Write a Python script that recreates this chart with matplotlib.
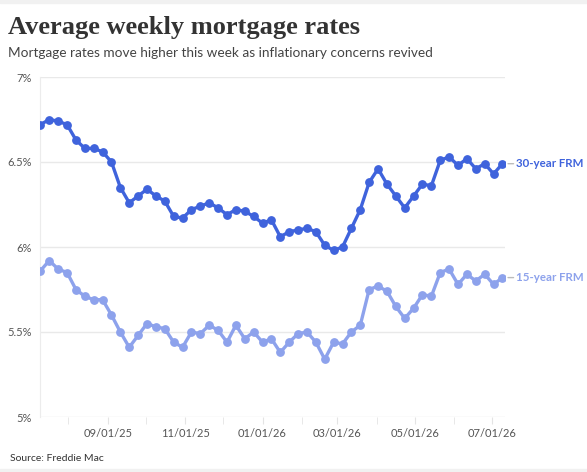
import numpy as np
import pandas as pd
import matplotlib
matplotlib.use("Agg")
import matplotlib.pyplot as plt
import matplotlib.dates as mdates

# weekly Freddie Mac PMMS readings, Thursdays
dates = pd.date_range("2025-07-10", periods=53, freq="7D")

rate_30 = [6.72, 6.75, 6.74, 6.72, 6.63, 6.58, 6.58, 6.56, 6.50, 6.35,
           6.26, 6.30, 6.34, 6.30, 6.27, 6.18, 6.17, 6.22, 6.24, 6.26,
           6.23, 6.19, 6.22, 6.21, 6.18, 6.14, 6.16, 6.06, 6.09, 6.10,
           6.11, 6.09, 6.01, 5.98, 6.00, 6.11, 6.22, 6.38, 6.46, 6.37,
           6.30, 6.23, 6.30, 6.37, 6.36, 6.51, 6.53, 6.48, 6.52, 6.46,
           6.49, 6.43, 6.49]

rate_15 = [5.86, 5.92, 5.87, 5.85, 5.75, 5.71, 5.69, 5.69, 5.60, 5.50,
           5.41, 5.48, 5.55, 5.53, 5.52, 5.44, 5.41, 5.50, 5.49, 5.54,
           5.51, 5.44, 5.54, 5.46, 5.50, 5.44, 5.46, 5.38, 5.44, 5.49,
           5.50, 5.44, 5.34, 5.44, 5.43, 5.50, 5.54, 5.75, 5.77, 5.74,
           5.65, 5.58, 5.64, 5.72, 5.71, 5.85, 5.87, 5.78, 5.84, 5.80,
           5.84, 5.78, 5.82]

y_ticks = [5.0, 5.5, 6.0, 6.5, 7.0]
y_labels = ["5%", "5.5%", "6%", "6.5%", "7%"]

c30 = "#3f63dc"
c15 = "#8da2ec"

W, H = 587, 472
fig = plt.figure(figsize=(W / 100, H / 100), dpi=100)
ax = fig.add_axes([40 / W, 1 - 417 / H, (505 - 40) / W, (417 - 77) / H])

ax.plot(dates, rate_30, color=c30, lw=2.4, marker="o", ms=5.3, zorder=3)
ax.plot(dates, rate_15, color=c15, lw=2.4, marker="o", ms=5.3, zorder=3)

ax.set_ylim(5, 7)
ax.set_xlim(dates[0] - pd.Timedelta(days=0.3), pd.Timestamp("2026-07-11"))
ax.set_yticks(y_ticks)
ax.set_yticklabels(y_labels)
ax.grid(axis="y", color="#e9e9e9", lw=1)
ax.set_axisbelow(True)

for s in ["top", "right", "bottom"]:
    ax.spines[s].set_visible(False)
ax.spines["left"].set_color("#ececec")

ax.xaxis.set_major_locator(mdates.MonthLocator(bymonth=[1, 3, 5, 7, 9, 11]))
ax.xaxis.set_major_formatter(mdates.DateFormatter("%m/%d/%y"))
ax.xaxis.set_minor_locator(mdates.MonthLocator())
ax.tick_params(axis="x", which="both", length=5, color="#e4e4e4", pad=3,
               labelsize=8, labelcolor="#555555")
ax.tick_params(axis="y", length=0, pad=6, labelsize=8, labelcolor="#555555")
for lab in ax.get_xticklabels() + ax.get_yticklabels():
    lab.set_fontfamily("Lato")

# end labels
for vals, col, name in [(rate_30, c30, "30-year FRM"), (rate_15, c15, "15-year FRM")]:
    ax.annotate("", xy=(dates[-1], vals[-1]), xytext=(8, 0),
                textcoords="offset points", annotation_clip=False,
                arrowprops=dict(arrowstyle="-", color="#bbbbbb", lw=1,
                                shrinkA=0, shrinkB=4))
    ax.annotate(name, xy=(dates[-1], vals[-1]), xytext=(10, 0),
                textcoords="offset points", va="center", ha="left",
                color=col, fontsize=8.3, fontfamily="Lato", fontweight="bold",
                annotation_clip=False)

fig.text(8 / W, 1 - 34 / H, "Average weekly mortgage rates", fontsize=19,
         fontfamily="Liberation Serif", fontweight="bold", color="#333333")
fig.text(8 / W, 1 - 57 / H,
         "Mortgage rates move higher this week as inflationary concerns revived",
         fontsize=9.85, fontfamily="Lato", color="#444444")
fig.text(10 / W, 1 - 461 / H, "Source: Freddie Mac", fontsize=7.5,
         fontfamily="Lato", color="#333333")

# faint page frame
fig.patches.append(plt.Rectangle((0, 1 - 3 / H), 1, 3 / H, transform=fig.transFigure,
                                 color="#f1f1f1", zorder=0))
fig.patches.append(plt.Rectangle((0, 0), 1, 3 / H, transform=fig.transFigure,
                                 color="#f1f1f1", zorder=0))

fig.savefig("out.png", dpi=100)
